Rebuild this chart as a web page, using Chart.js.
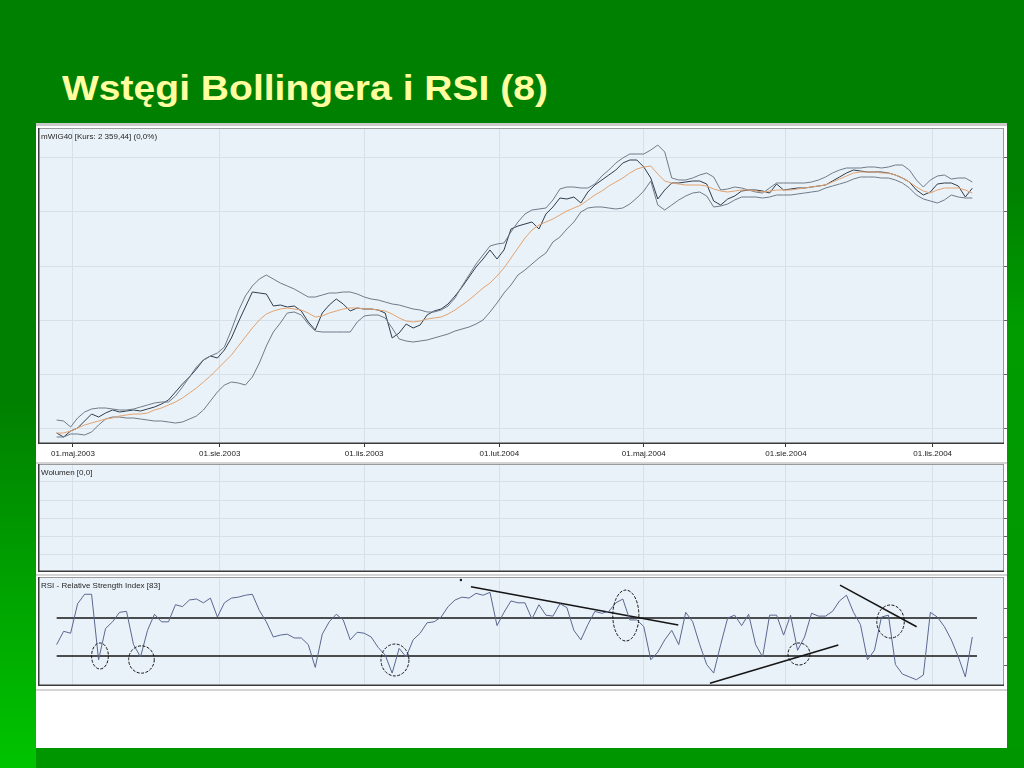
<!DOCTYPE html>
<html lang="pl">
<head>
<meta charset="utf-8">
<title>Wstęgi Bollingera i RSI (8)</title>
<script src="https://cdn.jsdelivr.net/npm/chart.js@4.4.1/dist/chart.umd.min.js"></script>
<style>
  html, body { margin: 0; padding: 0; }
  body {
    width: 1024px; height: 768px; position: relative; overflow: hidden;
    background: #008000; font-family: 'Liberation Sans', Arial, sans-serif;
  }
  .glow-left { position: absolute; left: 0; top: 400px; width: 36px; height: 368px; background: linear-gradient(#008000, #00c400); }
  .glow-right { position: absolute; left: 1007px; top: 180px; width: 17px; height: 588px; background: linear-gradient(#008000, #009c00 25%, #009800); }
  .glow-bottom { position: absolute; left: 36px; top: 748px; width: 988px; height: 20px; background: #009600; }
  h1 {
    position: absolute; left: 62px; top: 70px; margin: 0;
    font: bold 35px/35px 'Liberation Sans', Arial, sans-serif;
    color: #ffffa0; white-space: nowrap; transform-origin: 0 0;
  }
  .sheet { position: absolute; left: 36px; top: 123px; width: 971px; height: 625px; background: #fff; border-top: 3px solid #cbcbcb; box-sizing: border-box; }
  .rule { position: absolute; left: 36px; width: 971px; height: 2px; background: #d4d4d4; }
  canvas { position: absolute; left: 38px; }
  #priceChart { top: 128px; }
  #volumeChart { top: 464px; }
  #rsiChart { top: 577px; }
</style>
</head>
<body>
<div class="glow-left"></div>
<div class="glow-right"></div>
<div class="glow-bottom"></div>
<h1 id="slideTitle">Wstęgi Bollingera i RSI (8)</h1>
<div class="sheet"></div>
<div class="rule" style="top:462px"></div>
<div class="rule" style="top:574px"></div>
<div class="rule" style="top:689px"></div>
<canvas id="priceChart" width="969" height="334"></canvas>
<canvas id="volumeChart" width="969" height="108"></canvas>
<canvas id="rsiChart" width="969" height="109"></canvas>
<script>
// x axis in trading sessions counted from 01.05.2003, one sample every 3 sessions
const firstSession = -7;
const sessionStep = 3;
const tickSessions = [0, 63, 125, 183, 245, 306, 369];
const tickLabels = ['01.maj.2003', '01.sie.2003', '01.lis.2003', '01.lut.2004', '01.maj.2004', '01.sie.2004', '01.lis.2004'];

// mWIG40 close
const priceClose = [
    1135, 1115, 1145, 1160, 1195, 1230, 1215, 1235, 1250, 1240,
    1245, 1250, 1245, 1255, 1265, 1280, 1300, 1340, 1380, 1415,
    1455, 1500, 1520, 1510, 1550, 1610, 1690, 1765, 1840, 1835,
    1830, 1770, 1775, 1765, 1770, 1745, 1690, 1650, 1735, 1775,
    1805, 1780, 1745, 1760, 1755, 1755, 1750, 1735, 1610, 1635,
    1680, 1660, 1675, 1725, 1745, 1755, 1780, 1820, 1865, 1915,
    1965, 2005, 2050, 2005, 2050, 2155, 2170, 2180, 2190, 2155,
    2230, 2265, 2310, 2305, 2315, 2285, 2340, 2375, 2400, 2425,
    2450, 2485, 2500, 2500, 2465, 2410, 2305, 2350, 2385, 2385,
    2390, 2395, 2395, 2380, 2295, 2275, 2305, 2320, 2345, 2350,
    2350, 2345, 2335, 2380, 2350, 2355, 2360, 2360, 2365, 2370,
    2375, 2395, 2415, 2435, 2450, 2445, 2440, 2440, 2440, 2435,
    2425, 2410, 2390, 2350, 2325, 2340, 2380, 2385, 2385, 2370,
    2315, 2359
];

// Bollinger upper band
const bandUpper = [
    1200, 1195, 1165, 1210, 1240, 1255, 1260, 1260, 1255, 1250,
    1250, 1255, 1265, 1275, 1285, 1290, 1290, 1320, 1365, 1415,
    1465, 1500, 1520, 1535, 1565, 1650, 1745, 1820, 1870, 1905,
    1925, 1905, 1885, 1870, 1855, 1835, 1815, 1815, 1825, 1835,
    1835, 1840, 1840, 1830, 1815, 1805, 1800, 1790, 1780, 1775,
    1765, 1755, 1750, 1740, 1740, 1750, 1770, 1810, 1870, 1925,
    1980, 2025, 2070, 2080, 2085, 2140, 2190, 2230, 2250, 2255,
    2260, 2300, 2355, 2365, 2365, 2360, 2360, 2380, 2420, 2450,
    2485, 2510, 2530, 2530, 2530, 2550, 2575, 2540, 2410, 2400,
    2400, 2410, 2425, 2435, 2415, 2350, 2355, 2365, 2360, 2350,
    2340, 2335, 2360, 2385, 2385, 2385, 2385, 2385, 2390, 2400,
    2415, 2435, 2450, 2460, 2460, 2460, 2465, 2465, 2460, 2465,
    2475, 2475, 2450, 2400, 2365, 2400, 2420, 2425, 2405, 2410,
    2410, 2390
];

// Bollinger middle line (moving average)
const bandMiddle = [
    1135, 1135, 1145, 1160, 1175, 1185, 1195, 1205, 1210, 1220,
    1225, 1230, 1230, 1235, 1250, 1260, 1275, 1290, 1310, 1335,
    1360, 1390, 1420, 1455, 1490, 1525, 1570, 1615, 1660, 1700,
    1730, 1745, 1755, 1760, 1755, 1750, 1735, 1715, 1720, 1735,
    1745, 1755, 1760, 1760, 1755, 1755, 1750, 1745, 1730, 1710,
    1695, 1690, 1695, 1705, 1710, 1715, 1730, 1750, 1775, 1800,
    1830, 1860, 1885, 1920, 1960, 2010, 2060, 2110, 2150, 2175,
    2190, 2205, 2225, 2245, 2260, 2275, 2300, 2325, 2345, 2370,
    2390, 2410, 2435, 2455, 2465, 2470, 2430, 2395, 2385, 2380,
    2375, 2375, 2375, 2370, 2355, 2345, 2340, 2345, 2350, 2350,
    2345, 2340, 2345, 2350, 2350, 2350, 2355, 2360, 2365, 2370,
    2375, 2390, 2405, 2420, 2435, 2440, 2440, 2440, 2435, 2435,
    2425, 2410, 2390, 2365, 2345, 2335, 2350, 2360, 2360, 2360,
    2350, 2335
];

// Bollinger lower band
const bandLower = [
    1115, 1115, 1130, 1130, 1125, 1140, 1175, 1205, 1215, 1215,
    1210, 1210, 1205, 1200, 1195, 1195, 1190, 1185, 1190, 1205,
    1220, 1250, 1295, 1340, 1375, 1390, 1385, 1375, 1415, 1485,
    1570, 1640, 1685, 1735, 1740, 1725, 1680, 1645, 1640, 1640,
    1640, 1640, 1640, 1690, 1720, 1725, 1725, 1710, 1660, 1605,
    1595, 1590, 1595, 1600, 1610, 1620, 1630, 1645, 1655, 1665,
    1680, 1700, 1740, 1785, 1835, 1875, 1925, 1950, 1980, 2010,
    2035, 2090, 2115, 2155, 2190, 2240, 2260, 2265, 2265, 2260,
    2255, 2260, 2280, 2310, 2345, 2395, 2275, 2250, 2275, 2300,
    2320, 2335, 2340, 2320, 2265, 2270, 2280, 2300, 2315, 2315,
    2315, 2310, 2315, 2325, 2325, 2325, 2330, 2335, 2340, 2345,
    2360, 2370, 2380, 2390, 2405, 2415, 2415, 2415, 2410, 2410,
    2400, 2385, 2360, 2325, 2305, 2295, 2285, 2300, 2325, 2315,
    2310, 2310
];

// RSI
const rsiValues = [
    42, 56, 54, 85, 95, 95, 26, 59, 66, 76,
    77, 42, 29, 57, 74, 66, 66, 84, 82, 89,
    90, 86, 91, 71, 86, 91, 92, 94, 95, 78,
    66, 50, 52, 53, 49, 49, 42, 18, 53, 66,
    74, 68, 47, 55, 54, 50, 39, 31, 12, 38,
    29, 47, 54, 65, 66, 71, 82, 89, 92, 91,
    96, 94, 97, 62, 76, 88, 86, 86, 69, 84,
    73, 72, 85, 81, 57, 47, 63, 77, 75, 77,
    86, 90, 68, 68, 61, 26, 34, 47, 57, 42,
    76, 66, 42, 21, 12, 42, 70, 73, 62, 74,
    42, 29, 73, 73, 52, 73, 36, 50, 75, 72,
    72, 77, 88, 94, 76, 63, 26, 36, 71, 73,
    21, 11, 8, 5, 10, 76, 71, 61, 47, 29,
    8, 50
];

// hand-drawn marks on the RSI panel
const rsiLevels = [70, 30];
const levelSpan = [-7, 388];
const trendLines = [
    [170.8, 102.9, 259.8, 62.6],
    [273.4, 1.3, 328.5, 41.6],
    [329.2, 104.7, 362.1, 60.8]
];
const markDot = [166.5, 110];
const circleSessions = [11.6, 29.4, 138.2, 237.3, 311.6, 350.9];
const circleRsi = [30, 26.3, 25.8, 72.6, 32.1, 66.3];
const circleHalfWidth = [3.6, 5.5, 6, 5.6, 4.7, 5.9];
const circleHalfHeight = [13.7, 14.4, 16.8, 26.8, 11.6, 17.4];

const priceGrid = [1160, 1430, 1700, 1970, 2240, 2510];
const volumeGrid = [1, 2, 3, 4, 5];

const sessions = priceClose.map((_, i) => firstSession + i * sessionStep);
const toPoints = vals => vals.map((v, i) => ({ x: sessions[i], y: v }));

const colors = {
    plotBg: '#eaf2f9',
    grid: '#d6e0ea',
    price: '#2e3d4d',
    band: '#6f7b88',
    middle: '#e2a370',
    rsi: '#5a6890',
    ink: '#151515'
};
const fontFamily = "'Liberation Sans', Arial, sans-serif";
const xMin = -15;
const xMax = 399.6;

// fit the slide title to the width it has on the slide
const titleEl = document.getElementById('slideTitle');
titleEl.style.transform = 'scaleX(' + (486 / titleEl.getBoundingClientRect().width) + ')';

const panelFrame = {
    id: 'panelFrame',
    beforeDraw(chart) {
        const { ctx, chartArea: a } = chart;
        ctx.save();
        ctx.fillStyle = colors.plotBg;
        ctx.fillRect(a.left, a.top, a.width, a.height);
        ctx.restore();
    },
    afterDraw(chart, args, opts) {
        const { ctx, chartArea: a } = chart;
        ctx.save();
        ctx.strokeStyle = '#9a9a9a';
        ctx.lineWidth = 1;
        ctx.strokeRect(a.left + 0.5, a.top + 0.5, a.width - 1, a.height - 1);
        ctx.strokeStyle = '#3a3a3a';
        ctx.lineWidth = 1.5;
        ctx.beginPath();
        ctx.moveTo(a.left + 0.75, a.top);
        ctx.lineTo(a.left + 0.75, a.bottom - 0.75);
        ctx.lineTo(a.right, a.bottom - 0.75);
        ctx.stroke();
        ctx.fillStyle = '#262626';
        ctx.font = '8px ' + fontFamily;
        ctx.textBaseline = 'top';
        ctx.fillText(opts.title, a.left + 3, a.top + 5);
        ctx.restore();
    }
};

const rsiCircles = {
    id: 'rsiCircles',
    afterDatasetsDraw(chart) {
        const { ctx, scales: { x, y } } = chart;
        ctx.save();
        ctx.strokeStyle = colors.ink;
        ctx.lineWidth = 1;
        ctx.setLineDash([3, 1.5]);
        circleSessions.forEach((s, i) => {
            const cx = x.getPixelForValue(s);
            const cy = y.getPixelForValue(circleRsi[i]);
            const rx = Math.abs(x.getPixelForValue(s + circleHalfWidth[i]) - cx);
            const ry = Math.abs(y.getPixelForValue(circleRsi[i] + circleHalfHeight[i]) - cy);
            ctx.beginPath();
            ctx.ellipse(cx, cy, rx, ry, 0, 0, Math.PI * 2);
            ctx.stroke();
        });
        ctx.restore();
    }
};

const baseOptions = {
    responsive: false,
    animation: false,
    layout: { padding: 0, autoPadding: false },
    elements: { point: { radius: 0 }, line: { borderWidth: 1, tension: 0 } },
    plugins: { legend: { display: false }, tooltip: { enabled: false } }
};

const timeAxis = (showLabels) => ({
    type: 'linear',
    min: xMin,
    max: xMax,
    afterBuildTicks: scale => { scale.ticks = tickSessions.map(v => ({ value: v })); },
    afterFit: scale => { scale.height = showLabels ? 18 : 0; },
    ticks: {
        display: showLabels,
        autoSkip: false,
        maxRotation: 0,
        padding: 2,
        color: '#222',
        font: { size: 8, family: fontFamily },
        callback: (v, i) => tickLabels[i]
    },
    grid: { color: colors.grid, tickLength: 3, tickColor: '#333', drawTicks: showLabels },
    border: { display: false }
});

const valueAxis = (min, max, grid, onArea) => ({
    position: 'right',
    min: min,
    max: max,
    afterBuildTicks: scale => { scale.ticks = grid.map(v => ({ value: v })); },
    afterFit: scale => { scale.width = 3; },
    ticks: { display: false },
    grid: { color: colors.grid, tickLength: 3, tickColor: '#666', drawOnChartArea: onArea },
    border: { display: false }
});

// Price with Bollinger bands
new Chart(document.getElementById('priceChart'), {
    type: 'line',
    data: {
        datasets: [
            { data: toPoints(bandMiddle), borderColor: colors.middle },
            { data: toPoints(bandUpper), borderColor: colors.band },
            { data: toPoints(bandLower), borderColor: colors.band },
            { data: toPoints(priceClose), borderColor: colors.price }
        ]
    },
    options: {
        ...baseOptions,
        plugins: { ...baseOptions.plugins, panelFrame: { title: 'mWIG40 [Kurs: 2 359,44] (0,0%)' } },
        scales: {
            x: timeAxis(true),
            y: valueAxis(1080, 2660, priceGrid, true)
        }
    },
    plugins: [panelFrame]
});

// Volume (empty)
new Chart(document.getElementById('volumeChart'), {
    type: 'line',
    data: { datasets: [{ data: [], borderColor: colors.price }] },
    options: {
        ...baseOptions,
        plugins: { ...baseOptions.plugins, panelFrame: { title: 'Wolumen [0,0]' } },
        scales: {
            x: timeAxis(false),
            y: valueAxis(0, 6, volumeGrid, true)
        }
    },
    plugins: [panelFrame]
});

// RSI with drawn levels, trend lines and circles
const markLine = pts => ({ data: pts, borderColor: colors.ink, borderWidth: 1.5 });
new Chart(document.getElementById('rsiChart'), {
    type: 'line',
    data: {
        datasets: [
            { data: toPoints(rsiValues), borderColor: colors.rsi },
            ...rsiLevels.map(l => markLine(levelSpan.map(s => ({ x: s, y: l })))),
            ...trendLines.map(t => markLine([{ x: t[0], y: t[1] }, { x: t[2], y: t[3] }])),
            { data: [{ x: markDot[0], y: markDot[1] }], showLine: false, pointRadius: 1.2, pointBackgroundColor: colors.ink, pointBorderWidth: 0 }
        ]
    },
    options: {
        ...baseOptions,
        plugins: { ...baseOptions.plugins, panelFrame: { title: 'RSI - Relative Strength Index [83]' } },
        scales: {
            x: timeAxis(false),
            y: valueAxis(-1.6, 113.2, [20, 50, 80], false)
        }
    },
    plugins: [panelFrame, rsiCircles]
});
</script>
</body>
</html>
